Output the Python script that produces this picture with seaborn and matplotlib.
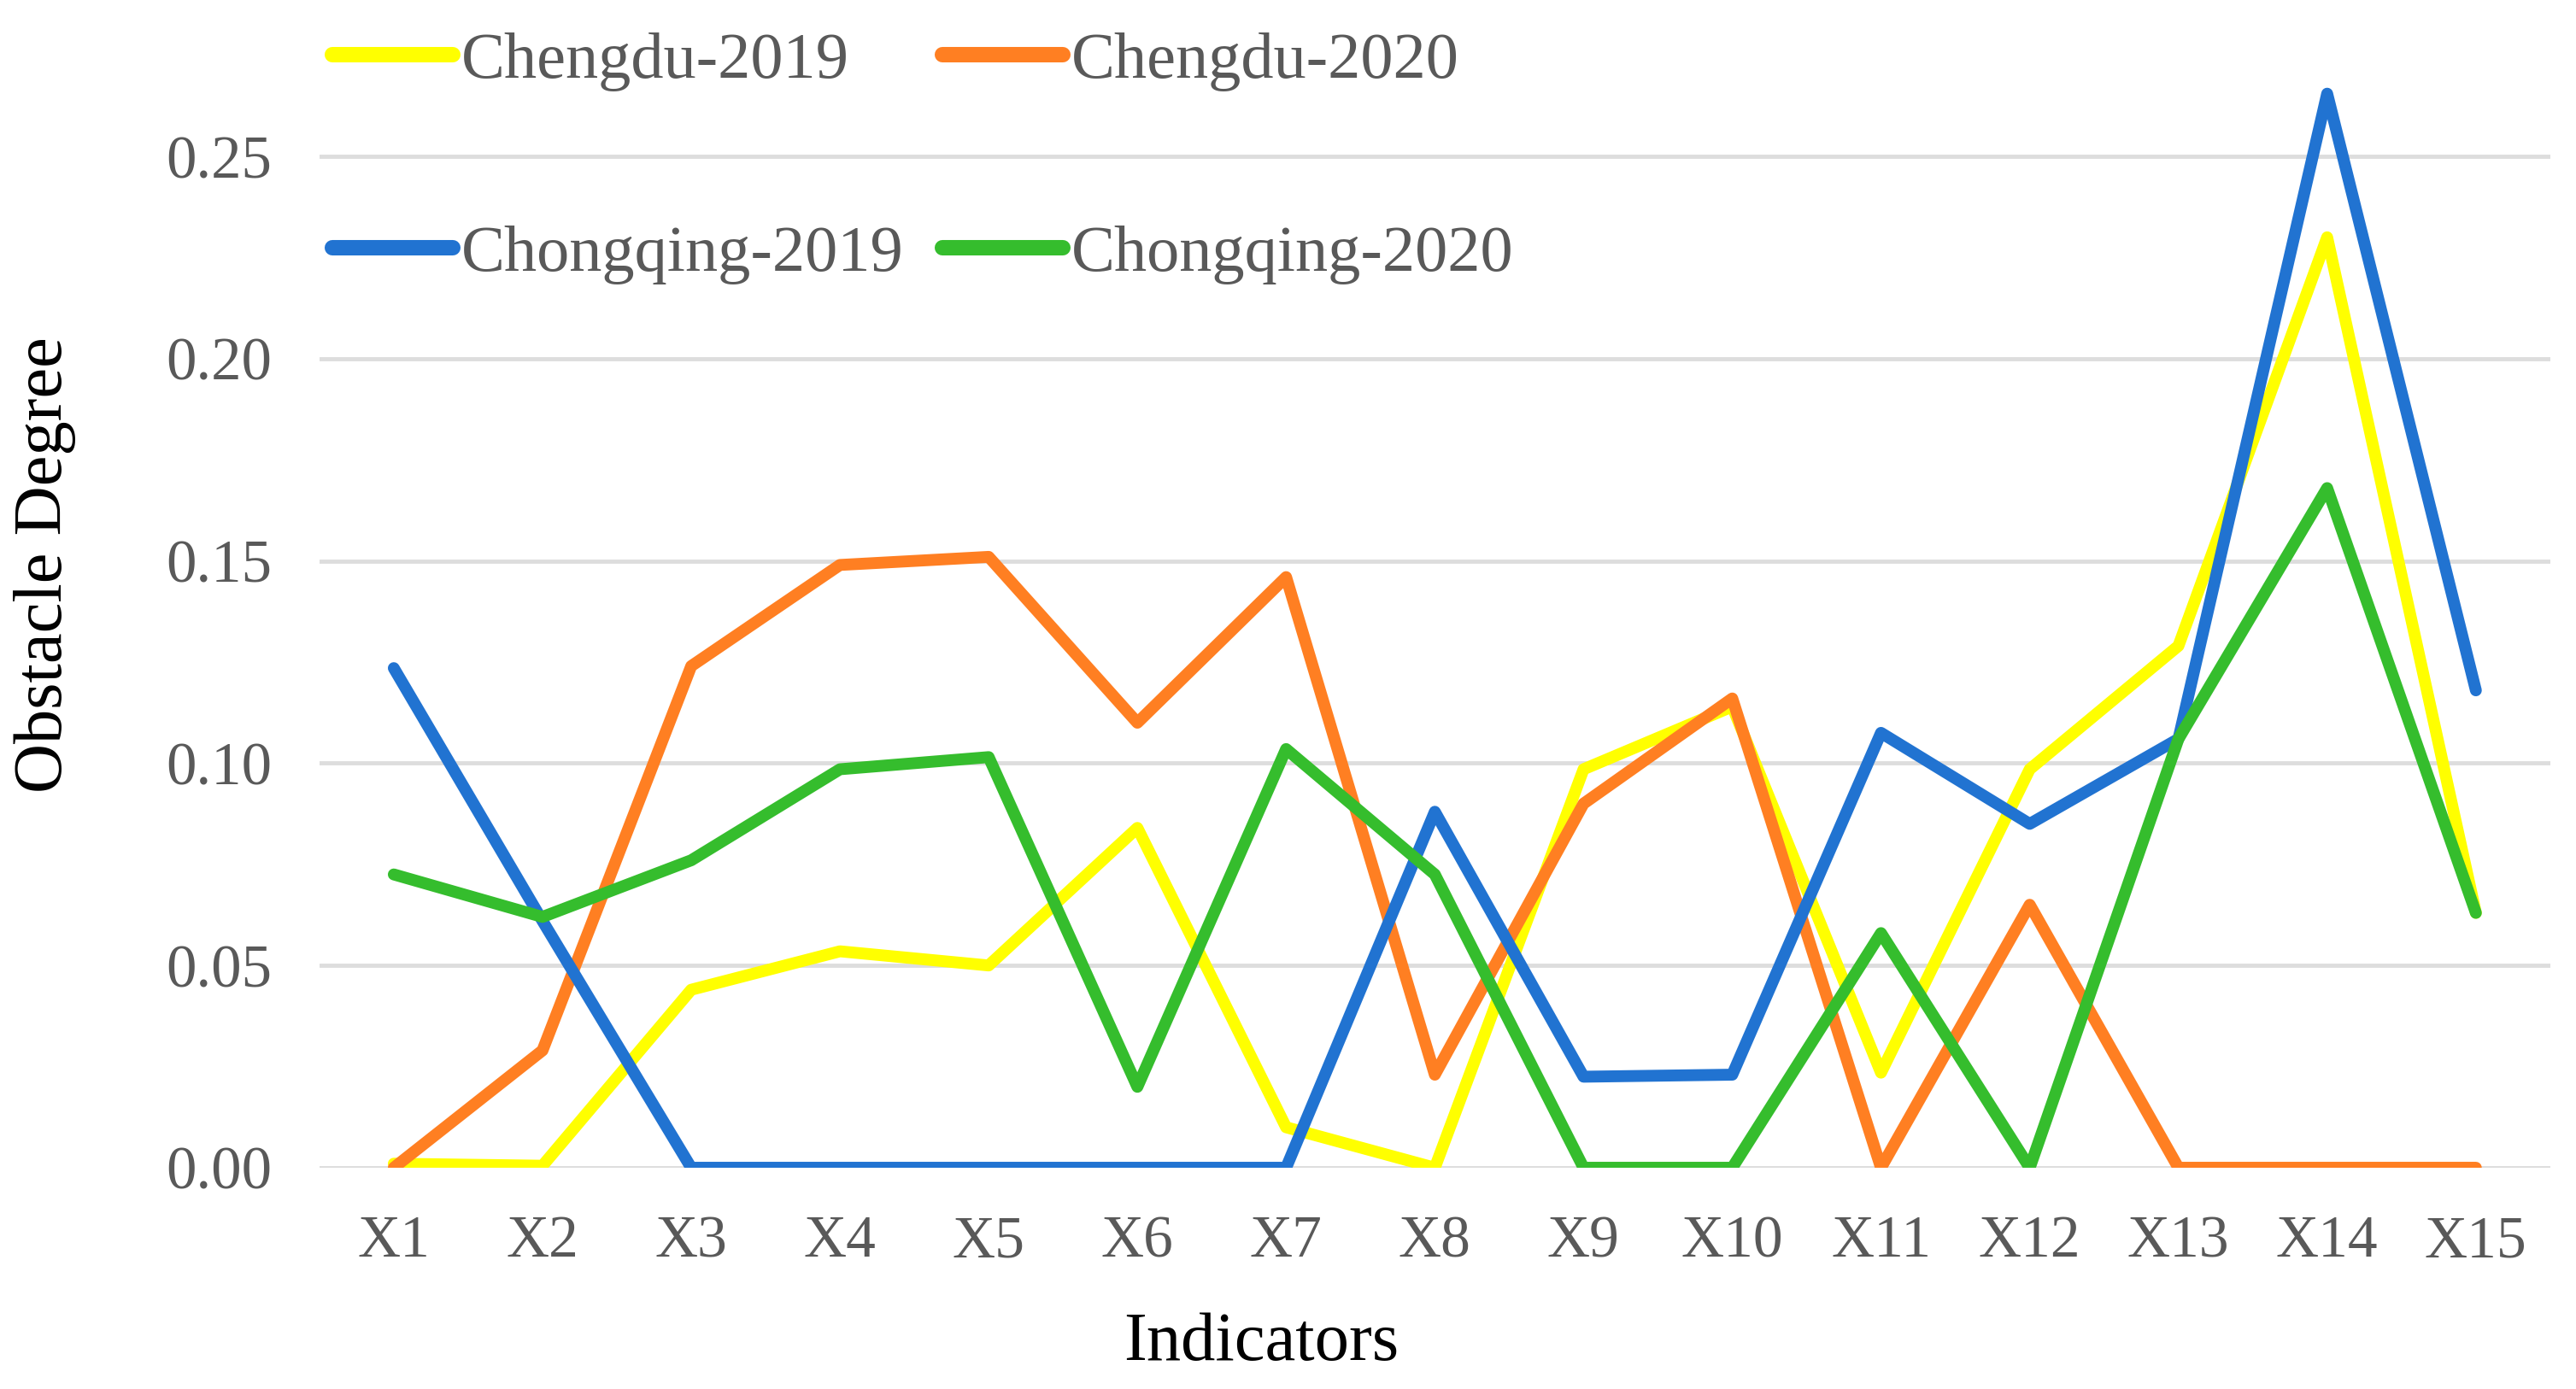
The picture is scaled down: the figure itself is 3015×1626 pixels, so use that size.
import seaborn as sns
import matplotlib.pyplot as plt
import pandas as pd

indicators = ['X1', 'X2', 'X3', 'X4', 'X5', 'X6', 'X7', 'X8', 'X9', 'X10', 'X11', 'X12', 'X13', 'X14', 'X15']

chengdu_2019 = [0.001, 0.0005, 0.044, 0.0535, 0.050, 0.084, 0.010, 0.000, 0.0985, 0.114, 0.0235, 0.0985, 0.129, 0.230, 0.063]
chengdu_2020 = [0.000, 0.029, 0.124, 0.149, 0.151, 0.110, 0.146, 0.023, 0.090, 0.116, 0.000, 0.065, 0.000, 0.000, 0.000]
chongqing_2019 = [0.1235, 0.061, 0.000, 0.000, 0.000, 0.000, 0.000, 0.088, 0.0225, 0.023, 0.1075, 0.085, 0.106, 0.2655, 0.118]
chongqing_2020 = [0.0725, 0.062, 0.076, 0.0985, 0.1015, 0.020, 0.1035, 0.0725, 0.000, 0.000, 0.058, 0.000, 0.106, 0.168, 0.063]

series = {
    'Chengdu-2019': chengdu_2019,
    'Chengdu-2020': chengdu_2020,
    'Chongqing-2019': chongqing_2019,
    'Chongqing-2020': chongqing_2020,
}
colors = {
    'Chengdu-2019': '#FFFF00',
    'Chengdu-2020': '#FF7F22',
    'Chongqing-2019': '#2173D1',
    'Chongqing-2020': '#35BD2D',
}

rows = []
for name, vals in series.items():
    for ind, v in zip(indicators, vals):
        rows.append({'Indicators': ind, 'Obstacle Degree': v, 'Series': name})
df = pd.DataFrame(rows)

sns.set_theme(style='white')
plt.rcParams['font.family'] = ['Liberation Serif', 'DejaVu Serif']

fig = plt.figure(figsize=(30.15, 16.26), dpi=100)
ax = fig.add_axes([0.124, 0.1593, 0.866, 0.8155])

sns.lineplot(data=df, x='Indicators', y='Obstacle Degree', hue='Series',
             palette=colors, linewidth=10, sort=False, ax=ax, legend=False,
             solid_capstyle='round', solid_joinstyle='round')

ax.set_xlim(-0.5, len(indicators) - 0.5)
ax.set_ylim(0, 0.28)
ax.set_yticks([0, 0.05, 0.10, 0.15, 0.20, 0.25])
ax.set_yticklabels(['0.00', '0.05', '0.10', '0.15', '0.20', '0.25'])
ax.yaxis.grid(True, color='#DDDDDD', linewidth=3.5)
ax.set_axisbelow(True)
for s in ax.spines.values():
    s.set_visible(False)
ax.tick_params(axis='y', labelsize=51, colors='#595959', pad=40, length=0)
ax.tick_params(axis='x', labelsize=50, colors='#595959', pad=40, length=0)
ax.set_xlabel('Indicators', fontsize=58, color='black', va='center')
ax.set_ylabel('Obstacle Degree', fontsize=58, color='black', va='center')
ax.xaxis.set_label_coords(0.422, -0.155)
ax.yaxis.set_label_coords(-0.123, 0.532)

# legend: two rows, filled column-wise
handles = {}
for line, name in zip(ax.get_lines(), series.keys()):
    handles[name] = line
order = ['Chengdu-2019', 'Chongqing-2019', 'Chengdu-2020', 'Chongqing-2020']
leg = fig.legend([handles[n] for n in order], order, loc='upper left',
                 bbox_to_anchor=(0.129, 0.977), ncol=2, frameon=False,
                 fontsize=55, handlelength=1.85, handletextpad=0.12,
                 columnspacing=0.6, labelspacing=2.05, borderpad=0,
                 borderaxespad=0)
for t in leg.get_texts():
    t.set_color('#595959')
for h in leg.legend_handles:
    h.set_linewidth(13)
    h.set_solid_capstyle('round')

fig.savefig('out.png', dpi=100)
